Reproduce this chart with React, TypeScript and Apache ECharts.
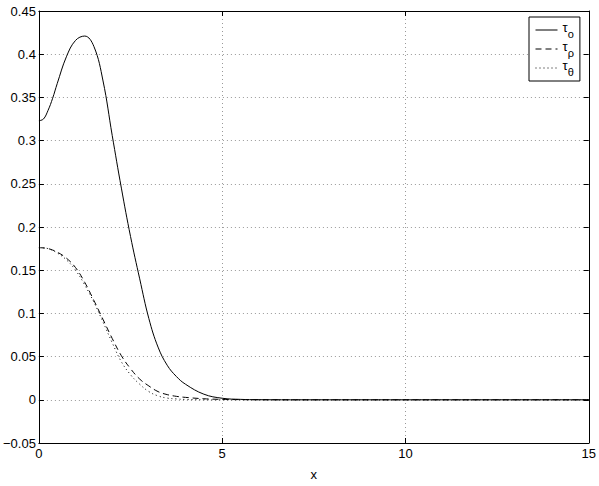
import React, { useEffect, useRef } from "react";
import * as echarts from "echarts";

const xs = [0, 0.125, 0.25, 0.375, 0.5, 0.75, 1, 1.25, 1.5, 1.75, 2, 2.25, 2.5, 2.75, 3, 3.25, 3.5, 3.75, 4, 4.5, 5, 5.5, 6, 7, 15];
const tauO = [0.323, 0.325, 0.335, 0.349, 0.366, 0.397, 0.416, 0.421, 0.409, 0.369, 0.306, 0.245, 0.189, 0.14, 0.094, 0.061, 0.04, 0.027, 0.018, 0.0065, 0.0018, 0.0005, 0.0001, 0, 0];
const tauRho = [0.176, 0.1758, 0.175, 0.1733, 0.171, 0.164, 0.153, 0.136, 0.115, 0.093, 0.071, 0.051, 0.036, 0.024, 0.016, 0.0095, 0.006, 0.004, 0.0028, 0.0012, 0.0005, 0.0002, 0.0001, 0, 0];
const tauTheta = [0.176, 0.1758, 0.175, 0.1728, 0.17, 0.162, 0.15, 0.133, 0.113, 0.09, 0.066, 0.044, 0.029, 0.018, 0.0095, 0.0045, 0.002, 0.001, 0.0004, 0.0001, 0, 0, 0, 0, 0];
const seriesNames = ["τo", "τρ", "τθ"];
const subscripts = ["o", "ρ", "θ"];

const FONT = "Liberation Sans";

export default function App() {
  const ref = useRef<HTMLDivElement>(null);
  useEffect(() => {
    if (!ref.current) return;
    const chart = echarts.init(ref.current, undefined, { renderer: "svg" });
    const pair = (ys: number[]) => xs.map((x, i) => [x, ys[i]]);
    const fmtY = (v: number) => {
      const n = Number(v.toFixed(2));
      return n < 0 ? "\u2212" + String(-n) : String(n);
    };
    const axisLineStyle = { color: "#000", width: 1 };
    const grid = { type: [1, 3], color: "#999", width: 1 };
    chart.setOption({
      animation: false,
      backgroundColor: "#fff",
      grid: { left: 36, right: 8, top: 11, bottom: 39, containLabel: false },
      xAxis: [
        {
          type: "value",
          min: 0,
          max: 15,
          interval: 5,
          name: "x",
          nameLocation: "middle",
          nameGap: 25,
          nameTextStyle: { color: "#000", fontFamily: FONT, fontSize: 13 },
          axisLine: { show: true, onZero: false, lineStyle: axisLineStyle },
          axisTick: { show: true, inside: true, length: 5, lineStyle: axisLineStyle },
          axisLabel: { color: "#000", fontFamily: FONT, fontSize: 13, margin: 4 },
          splitLine: { show: true, lineStyle: grid },
        },
        {
          type: "value",
          position: "top",
          min: 0,
          max: 15,
          interval: 5,
          axisLine: { show: true, onZero: false, lineStyle: axisLineStyle },
          axisTick: { show: true, inside: true, length: 5, lineStyle: axisLineStyle },
          axisLabel: { show: false },
          splitLine: { show: false },
        },
      ],
      yAxis: [
        {
          type: "value",
          min: -0.05,
          max: 0.45,
          interval: 0.05,
          axisLine: { show: true, onZero: false, lineStyle: axisLineStyle },
          axisTick: { show: true, inside: true, length: 5, lineStyle: axisLineStyle },
          axisLabel: { color: "#000", fontFamily: FONT, fontSize: 13, margin: 3, formatter: fmtY },
          splitLine: { show: true, lineStyle: grid },
        },
        {
          type: "value",
          position: "right",
          min: -0.05,
          max: 0.45,
          interval: 0.05,
          axisLine: { show: true, onZero: false, lineStyle: axisLineStyle },
          axisTick: { show: true, inside: true, length: 5, lineStyle: axisLineStyle },
          axisLabel: { show: false },
          splitLine: { show: false },
        },
      ],
      legend: {
        orient: "vertical",
        left: 529,
        top: 17,
        padding: [4, 6, 4, 6],
        itemWidth: 22,
        itemHeight: 10,
        itemGap: 1,
        borderColor: "#000",
        borderWidth: 1,
        borderRadius: 0,
        backgroundColor: "#fff",
        itemStyle: { opacity: 0 },
        lineStyle: { width: 1 },
        data: seriesNames,
        formatter: (name: string) => {
          const i = seriesNames.indexOf(name);
          return `{t|τ}{s|${subscripts[i]}}`;
        },
        textStyle: {
          color: "#000",
          fontFamily: FONT,
          rich: {
            t: { fontSize: 13, fontFamily: FONT, color: "#000", verticalAlign: "top", lineHeight: 18 },
            s: { fontSize: 11, fontFamily: FONT, color: "#000", verticalAlign: "bottom", lineHeight: 11 },
          },
        },
      },
      series: [
        {
          name: seriesNames[0],
          type: "line",
          data: pair(tauO),
          smooth: 0.4,
          symbol: "none",
          lineStyle: { color: "#000", width: 1, type: "solid" },
          itemStyle: { color: "#000" },
        },
        {
          name: seriesNames[1],
          type: "line",
          data: pair(tauRho),
          smooth: 0.4,
          symbol: "none",
          lineStyle: { color: "#000", width: 1, type: [6, 4] },
          itemStyle: { color: "#000" },
        },
        {
          name: seriesNames[2],
          type: "line",
          data: pair(tauTheta),
          smooth: 0.4,
          symbol: "none",
          lineStyle: { color: "#000", width: 1, type: [1, 3] },
          itemStyle: { color: "#000" },
        },
      ],
    });
    return () => chart.dispose();
  }, []);
  return <div ref={ref} style={{ position: "absolute", left: 0, top: 0, width: 599, height: 486 }} />;
}
